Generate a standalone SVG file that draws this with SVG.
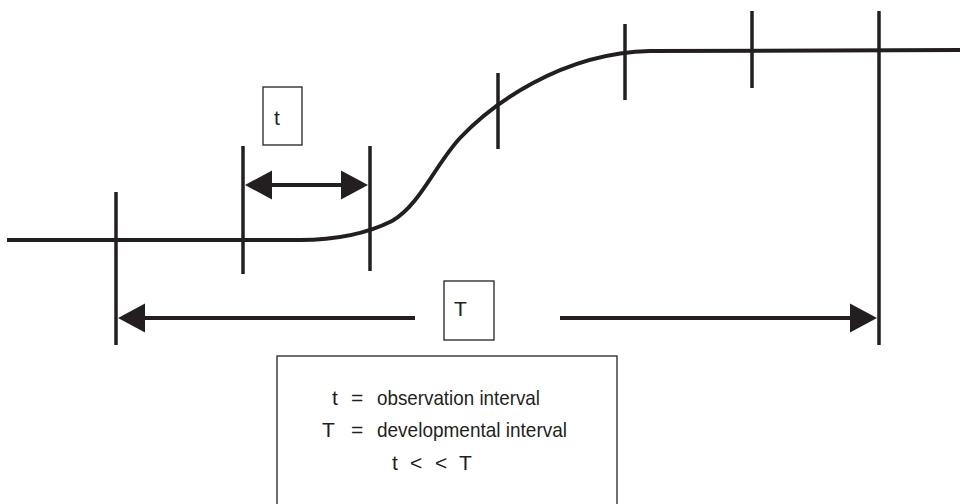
<svg xmlns="http://www.w3.org/2000/svg" width="960" height="504" viewBox="0 0 960 504">
<style>
.ln{stroke:#231f20;stroke-width:4;fill:none}
.tk{stroke:#231f20;stroke-width:3.5;fill:none}
.hd{fill:#231f20;stroke:none}
.bx{fill:#fff;stroke:#231f20;stroke-width:1.3}
.tx{font-family:"Liberation Sans",Arial,sans-serif;font-size:21px;fill:#231f20}
</style>
<defs>
<path id="headL" d="M0,0 L27,-14.5 L27,14.5 Z"/>
<path id="headR" d="M0,0 L-27,-14.5 L-27,14.5 Z"/>
</defs>
<g id="curve">
<path class="ln" d="M7,240 L300,240 C340,240 370,232 392,221 C420,205 435,165 460,138 C490,106 560,53 650,51 L960,50"/>
</g>
<g id="ticks">
<line class="tk" x1="116" y1="192" x2="116" y2="345"/>
<line class="tk" x1="243" y1="146" x2="243" y2="274"/>
<line class="tk" x1="370" y1="146" x2="370" y2="271"/>
<line class="tk" x1="498" y1="73" x2="498" y2="149"/>
<line class="tk" x1="625" y1="24" x2="625" y2="100"/>
<line class="tk" x1="752" y1="11" x2="752" y2="88"/>
<line class="tk" x1="879" y1="11" x2="879" y2="345"/>
</g>
<g id="connectors">
<line class="ln" x1="262" y1="185" x2="352" y2="185"/>
<use href="#headL" class="hd" x="245" y="185"/>
<use href="#headR" class="hd" x="368" y="185"/>
<line class="ln" x1="135" y1="318" x2="415" y2="318"/>
<use href="#headL" class="hd" x="118" y="318"/>
<line class="ln" x1="560" y1="318" x2="860" y2="318"/>
<use href="#headR" class="hd" x="877" y="318"/>
</g>
<g id="label-t">
<rect class="bx" x="263" y="87" width="39" height="58"/>
<text class="tx" x="274" y="125">t</text>
</g>
<g id="label-T">
<rect class="bx" x="444" y="281" width="50" height="59"/>
<text class="tx" x="454" y="316">T</text>
</g>
<g id="legend">
<rect class="bx" x="277" y="356" width="340" height="160"/>
<text class="tx" x="332" y="405">t</text>
<text class="tx" x="351" y="405">=</text>
<text class="tx" x="377" y="405" textLength="163" lengthAdjust="spacingAndGlyphs">observation interval</text>
<text class="tx" x="322" y="437">T</text>
<text class="tx" x="351" y="437">=</text>
<text class="tx" x="377" y="437" textLength="190" lengthAdjust="spacingAndGlyphs">developmental interval</text>
<text class="tx" x="392" y="470">t</text>
<text class="tx" x="410" y="470">&lt;</text>
<text class="tx" x="435" y="470">&lt;</text>
<text class="tx" x="459" y="470">T</text>
</g>
</svg>
